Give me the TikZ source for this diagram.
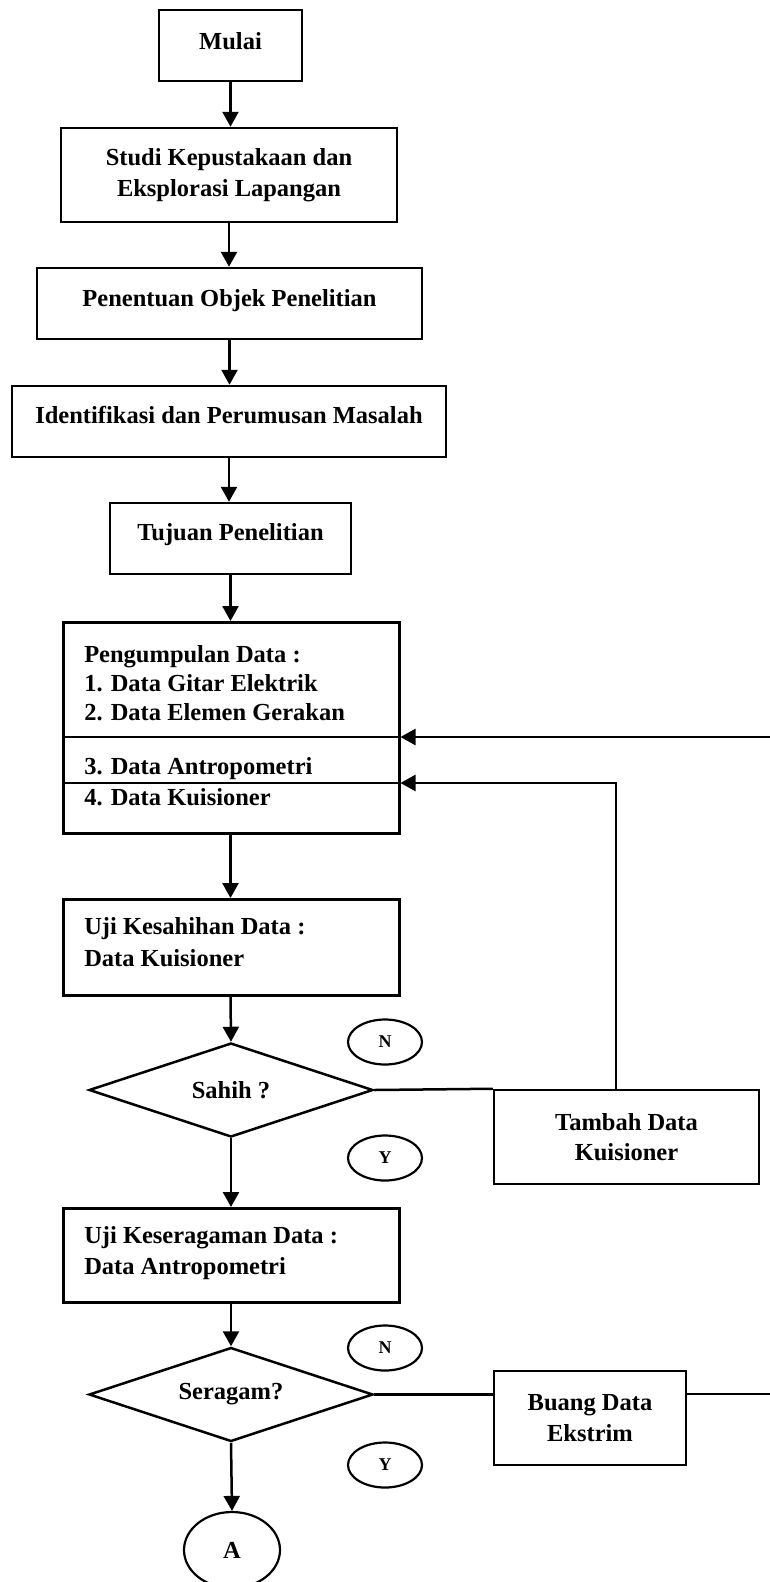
\documentclass[tikz,border=0pt]{standalone}
\usepackage{fontspec}
\setmainfont{Liberation Serif}
\usetikzlibrary{arrows.meta,shapes.geometric}
\begin{document}
\begin{tikzpicture}[x=1pt,y=-1pt,
  every node/.style={font=\fontsize{24.5}{30.5}\selectfont\bfseries},
  box/.style={draw, line width=2.5pt, rectangle, inner sep=0pt},
  dec/.style={draw, line width=2.5pt, diamond, aspect=3, inner sep=0pt, minimum width=284pt, minimum height=94pt},
  tag/.style={draw, line width=2.2pt, ellipse, inner sep=0pt, minimum width=74pt, minimum height=45pt, font=\fontsize{18}{18}\selectfont\bfseries},
  conn/.style={line width=2.5pt},
  arr/.style={conn, -{Triangle[length=15pt,width=16pt]}}
]
\useasboundingbox (0,0) rectangle (770,1582);

% single-line boxes
\node[box, anchor=base, text height=39pt, text depth=32pt, minimum width=143pt] (mulai) at (230.5,49) {Mulai};
\node[box, align=center, minimum width=336pt, minimum height=94pt] (studi) at (229,175) {Studi Kepustakaan dan\\Eksplorasi Lapangan};
\node[box, anchor=base, text height=38pt, text depth=33pt, minimum width=385pt] (objek) at (229.5,306) {Penentuan Objek Penelitian};
\node[box, anchor=base, text height=37pt, text depth=34pt, minimum width=434pt] (ident) at (229,423) {Identifikasi dan Perumusan Masalah};
\node[box, anchor=base, text height=37pt, text depth=34pt, minimum width=241pt] (tujuan) at (230.5,540) {Tujuan Penelitian};

% data collection box
\node[box, anchor=north west] (peng) at (62,621) {\parbox[c][211pt][t]{336pt}{\fontsize{24.5}{29}\selectfont\raggedright\leftskip=21pt
\rule{0pt}{40pt}Pengumpulan Data :\\
1. Data Gitar Elektrik\\
2. Data Elemen Gerakan\\[25pt]
3. Data Antropometri\\[2pt]
4. Data Kuisioner}};
\coordinate (pd1) at (230,737);
\coordinate (pd2) at (230,783);
\draw[conn] (peng.west |- pd1) -- (peng.east |- pd1);
\draw[conn] (peng.west |- pd2) -- (peng.east |- pd2);

\node[box, anchor=north west] (kes) at (62,898) {\parbox[c][96pt][t]{336pt}{\fontsize{24.5}{32}\selectfont\raggedright\leftskip=21pt
\rule{0pt}{35pt}Uji Kesahihan Data :\\
Data Kuisioner}};

\node[dec] (sahih) at (231,1090) {Sahih ?};
\node[tag] (n1) at (385,1042) {N};
\node[tag] (y1) at (385,1158) {Y};
\node[box, align=center, minimum width=265pt, minimum height=94pt] (tambah) at (626.5,1137) {Tambah Data\\Kuisioner};

\node[box, anchor=north west] (ser) at (62,1207) {\parbox[c][94pt][t]{336pt}{\fontsize{24.5}{31}\selectfont\raggedright\leftskip=21pt
\rule{0pt}{35pt}Uji Keseragaman Data :\\
Data Antropometri}};

\node[dec] (seragam) at (231,1394.5) {Seragam?};
\node[tag] (n2) at (385,1348) {N};
\node[tag] (y2) at (385,1465) {Y};
\node[box, align=center, minimum width=192pt, minimum height=94pt] (buang) at (590,1418) {Buang Data\\Ekstrim};

\node[draw, line width=2.2pt, ellipse, inner sep=0pt, minimum width=96pt, minimum height=76pt] (a) at (232,1550) {A};

% main flow
\draw[arr] (mulai.south) -- (mulai.south |- studi.north);
\draw[arr] (studi.south) -- (studi.south |- objek.north);
\draw[arr] (objek.south) -- (objek.south |- ident.north);
\draw[arr] (ident.south) -- (ident.south |- tujuan.north);
\draw[arr] (tujuan.south) -- (tujuan.south |- peng.north);
\draw[arr] (tujuan.south |- peng.south) -- (tujuan.south |- kes.north);
\draw[arr] (tujuan.south |- kes.south) -- (sahih.north);
\draw[arr] (sahih.south) -- (sahih.south |- ser.north);
\draw[arr] (sahih.south |- ser.south) -- (seragam.north);
\draw[arr] (seragam.south) -- (a.north);

% loops
\coordinate (tx) at (616,0);
\draw[conn] (sahih.east) -- (tambah.north west);
\draw[arr] (tambah.north -| tx) |- (peng.east |- pd2);
\coordinate (edge) at (776,0);
\draw[conn] (seragam.east) -- (buang.west |- seragam.east);
\draw[arr] (buang.east |- 0,1394) -| (edge |- 0,1000) |- (peng.east |- pd1);
\end{tikzpicture}
\end{document}
